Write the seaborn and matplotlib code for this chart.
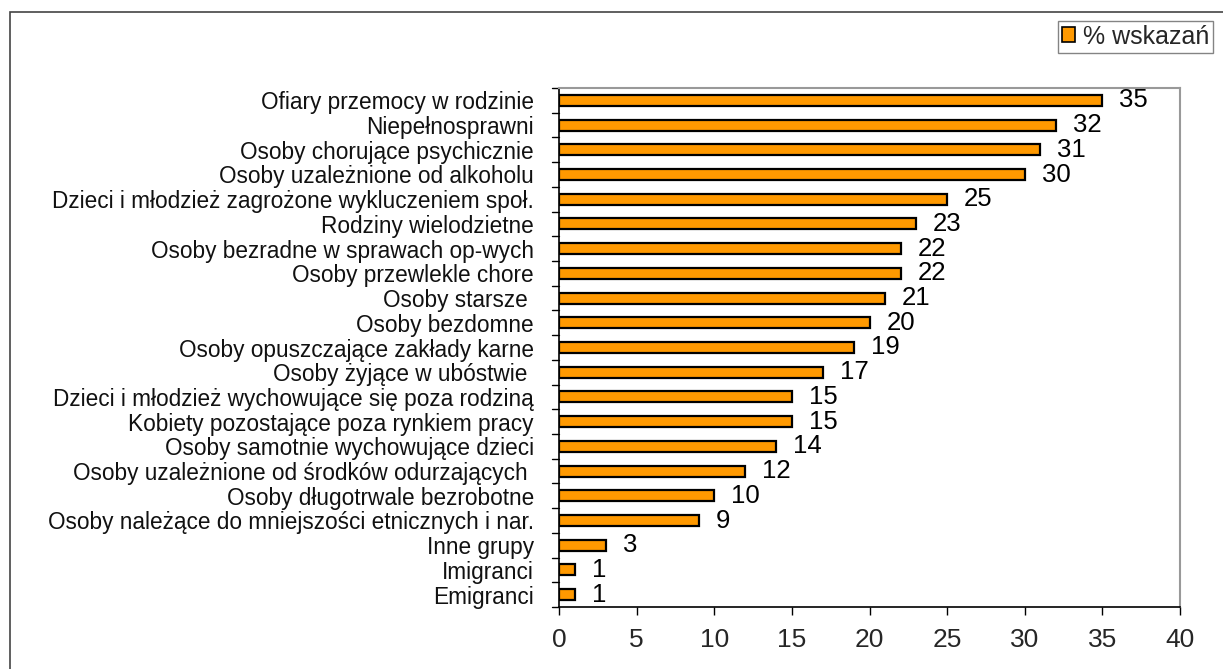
import matplotlib
matplotlib.use("Agg")
import matplotlib.pyplot as plt
import seaborn as sns
import pandas as pd
from matplotlib.patches import Rectangle, Patch

categories = [
    "Ofiary przemocy w rodzinie",
    "Niepełnosprawni",
    "Osoby chorujące psychicznie",
    "Osoby uzależnione od alkoholu",
    "Dzieci i młodzież zagrożone wykluczeniem społ.",
    "Rodziny wielodzietne",
    "Osoby bezradne w sprawach op-wych",
    "Osoby przewlekle chore",
    "Osoby starsze ",
    "Osoby bezdomne",
    "Osoby opuszczające zakłady karne",
    "Osoby żyjące w ubóstwie ",
    "Dzieci i młodzież wychowujące się poza rodziną",
    "Kobiety pozostające poza rynkiem pracy",
    "Osoby samotnie wychowujące dzieci",
    "Osoby uzależnione od środków odurzających ",
    "Osoby długotrwale bezrobotne",
    "Osoby należące do mniejszości etnicznych i nar.",
    "Inne grupy",
    "Imigranci",
    "Emigranci",
]
values = [35, 32, 31, 30, 25, 23, 22, 22, 21, 20, 19, 17, 15, 15, 14, 12, 10, 9, 3, 1, 1]
series_name = "% wskazań"
xticks = [0, 5, 10, 15, 20, 25, 30, 35, 40]

sns.set_theme(style="white")
plt.rcParams['font.family'] = ['Liberation Sans', 'DejaVu Sans']

df = pd.DataFrame({"cat": categories, "val": values})

fig = plt.figure(figsize=(12.23, 6.69), dpi=100)
ax = fig.add_axes([559/1223, 1-607/669, (1180-559)/1223, (607-88)/669])

sns.barplot(data=df, y="cat", x="val", orient="h", color="#FF9900",
            edgecolor="black", linewidth=1.6, width=0.45, saturation=1, ax=ax)

ax.set_xlim(0, 40)
ax.set_ylim(len(categories)-0.5, -0.5)
ax.set_xticks(xticks)
ax.set_xticklabels([str(t) for t in xticks], fontsize=19)
ax.set_xlabel("")
ax.set_ylabel("")
ax.tick_params(axis='y', labelsize=16.3, length=0, pad=18)
ax.tick_params(axis='x', length=6, width=1, color='black', direction='out', bottom=True, pad=9)
for lbl in ax.get_yticklabels():
    lbl.set_color('#111111')

# category boundary ticks on left
for b in range(len(categories)+1):
    ax.plot([-0.012, 0], [b-0.5, b-0.5], transform=ax.get_yaxis_transform(),
            color='black', lw=1, clip_on=False)

for i, v in enumerate(values):
    ax.text(v + 1.1, i, str(v), va='center', ha='left', fontsize=18.5, color='black')

for s in ['left', 'bottom']:
    ax.spines[s].set_color('black')
    ax.spines[s].set_linewidth(1.2)
for s in ['top', 'right']:
    ax.spines[s].set_color('#999999')
    ax.spines[s].set_linewidth(1.5)

# outer chart frame
fig.patches.append(Rectangle((10/1223, -0.01), 1.1, 1-12/669+0.01, transform=fig.transFigure,
                             fill=False, edgecolor='#444444', lw=1.2))

handle = Patch(facecolor="#FF9900", edgecolor="black", linewidth=1.2)
leg = fig.legend([handle], [series_name], loc='upper right',
                 bbox_to_anchor=(1213/1223, 1-21/669), fontsize=18,
                 frameon=True, fancybox=False, handlelength=0.55, handleheight=0.55,
                 handletextpad=0.3, borderpad=0.15, borderaxespad=0)
leg.get_frame().set_edgecolor('#666666')
leg.get_frame().set_linewidth(1)

fig.savefig("out.png", dpi=100)
